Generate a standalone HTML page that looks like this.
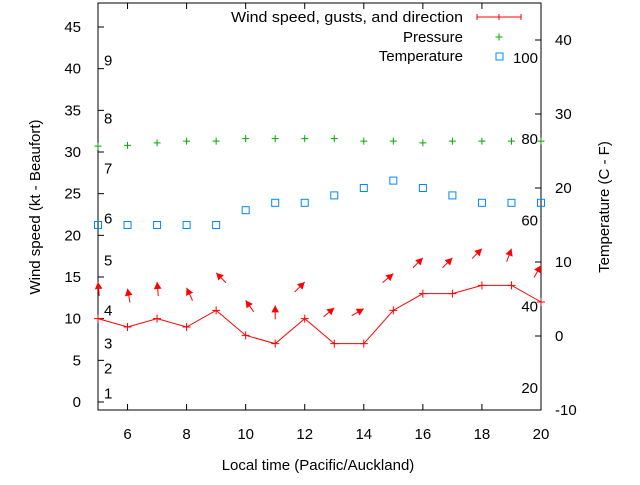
<!DOCTYPE html>
<html><head><meta charset="utf-8"><style>
body{margin:0;background:#fff}
svg text{font-family:"Liberation Sans",sans-serif;font-size:15px;fill:#000}
</style></head><body>
<svg id="c" width="640" height="480" xmlns="http://www.w3.org/2000/svg"></svg>
<script>
const hours=[5,6,7,8,9,10,11,12,13,14,15,16,17,18,19,20];
const windSpeed=[10,9,10,9,11,8,7,10,7,7,11,13,13,14,14,12];
const windGust=[14.4,13.6,14.4,13.7,15.5,12.2,11.6,14.4,11.3,11.2,15.4,17.3,17.3,18.4,18.4,16.4];
const windDir=[-5,-10,-5,-25,-45,-35,0,45,50,60,50,45,45,45,20,30];
const pressure=[30.7,30.8,31.1,31.3,31.3,31.6,31.6,31.6,31.6,31.3,31.3,31.1,31.3,31.3,31.3,31.3];
const temperature=[15,15,15,15,15,17,18,18,19,20,21,20,19,18,18,18];
const xTicks=[6,8,10,12,14,16,18,20];
const yTicks=[0,5,10,15,20,25,30,35,40,45];
const y2Ticks=[-10,0,10,20,30,40];
const beaufort=[1,2,3,4,5,6,7,8,9];
const beaufortY=[1,4,7,11,17,22,28,34,41];
const fLabels=[20,40,60,80,100];
const fY=[-7,4,15.6,26.6,37.6];
const L=98,R=541,T=3,B=410;
const X=v=>L+(v-5)*(R-L)/15;
const Y=v=>402-v*375/45;
const Y2=v=>336-v*7.4;
const s=document.getElementById('c');
const NS='http://www.w3.org/2000/svg';
function mk(t,a,p){const e=document.createElementNS(NS,t);for(const k in a)e.setAttribute(k,a[k]);(p||s).appendChild(e);return e;}
let e;
e=mk('rect',{x:L,y:T,width:R-L,height:B-T,fill:'none',stroke:'#000'});


xTicks.forEach(v=>{mk('line',{x1:X(v),x2:X(v),y1:B,y2:B-6,stroke:'#000'});mk('line',{x1:X(v),x2:X(v),y1:T,y2:T+6,stroke:'#000'});
 e=mk('text',{x:X(v),y:B+29,'text-anchor':'middle'});e.textContent=v;
 
 });
yTicks.forEach(v=>{mk('line',{x1:L,x2:L+6,y1:Y(v),y2:Y(v),stroke:'#000'});
 e=mk('text',{x:L-17,y:Y(v)+5,'text-anchor':'end'});e.textContent=v;
 
 });
y2Ticks.forEach(v=>{mk('line',{x1:R,x2:R-6,y1:Y2(v),y2:Y2(v),stroke:'#000'});
 e=mk('text',{x:R+14,y:Y2(v)+5});e.textContent=v;
 
 });
beaufort.forEach((b,i)=>{e=mk('text',{x:104,y:Y(beaufortY[i])+5});e.textContent=b;
 
 });
fLabels.forEach((v,i)=>{e=mk('text',{x:538,y:Y2(fY[i])+5,'text-anchor':'end'});e.textContent=v;
 
 });
e=mk('text',{x:318,y:470,'text-anchor':'middle'});e.textContent='Local time (Pacific/Auckland)';


e=mk('text',{x:40,y:207,'text-anchor':'middle',transform:'rotate(-90 40 207)'});e.textContent='Wind speed (kt - Beaufort)';


e=mk('text',{x:609,y:207,'text-anchor':'middle',transform:'rotate(-90 609 207)'});e.textContent='Temperature (C - F)';


e=mk('polyline',{points:hours.map((h,i)=>X(h)+','+Y(windSpeed[i])).join(' '),fill:'none',stroke:'#f00'});


hours.forEach((h,i)=>{const x=X(h),y=Y(windSpeed[i]);
 e=mk('path',{d:`M${x-4} ${y}H${x+4}M${x} ${y-4}V${y+4}`,stroke:'#f00'});
 
 
 const a=windDir[i]*Math.PI/180,hx=X(h),hy=Y(windGust[i]),len=14;
 const tx=hx-Math.sin(a)*len,ty=hy+Math.cos(a)*len;
 const g=mk('g',{});
 
 
 mk('line',{x1:tx,y1:ty,x2:hx,y2:hy,stroke:'#f00'},g);
 const b1=a+Math.PI-0.5,b2=a+Math.PI+0.5;
 mk('polygon',{points:`${hx},${hy} ${hx+Math.sin(b1)*8},${hy-Math.cos(b1)*8} ${hx+Math.sin(b2)*8},${hy-Math.cos(b2)*8}`,fill:'#f00'},g);
 const py=Y(pressure[i]);
 e=mk('path',{d:`M${x-3.5} ${py}H${x+3.5}M${x} ${py-3.5}V${py+3.5}`,stroke:'#0a0'});
 
 
 const ty2=Y2(temperature[i]);
 e=mk('rect',{x:x-3.5,y:ty2-3.5,width:7,height:7,fill:'none',stroke:'#08f'});
 
 
});
e=mk('text',{x:231,y:22,textLength:232,lengthAdjust:'spacingAndGlyphs'});e.textContent='Wind speed, gusts, and direction';


mk('path',{d:'M477 17H521M477 14V20M499 14V20M521 14V20',stroke:'#f00'});
e=mk('text',{x:463,y:42,'text-anchor':'end'});e.textContent='Pressure';


mk('path',{d:'M495.5 37H502.5M499 33.5V40.5',stroke:'#0a0'});
e=mk('text',{x:463,y:61,'text-anchor':'end'});e.textContent='Temperature';


mk('rect',{x:496,y:53,width:7,height:7,fill:'none',stroke:'#08f'});
</script>
</body></html>
